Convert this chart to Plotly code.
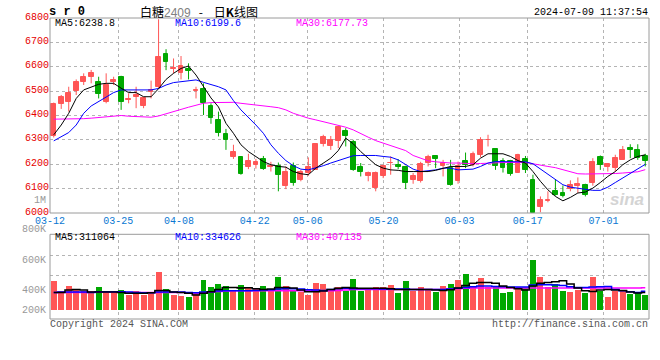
import plotly.graph_objects as go

# ---------------- data ----------------
dates = ["03-12","03-13","03-14","03-15","03-18","03-19","03-20","03-21","03-22","03-25",
         "03-26","03-27","03-28","03-29","04-01","04-02","04-03","04-08","04-09","04-10",
         "04-11","04-12","04-15","04-16","04-17","04-18","04-19","04-22","04-23","04-24",
         "04-25","04-26","04-29","04-30","05-06","05-07","05-08","05-09","05-10","05-13",
         "05-14","05-15","05-16","05-17","05-20","05-21","05-22","05-23","05-24","05-27",
         "05-28","05-29","05-30","05-31","06-03","06-04","06-05","06-06","06-07","06-11",
         "06-12","06-13","06-14","06-17","06-18","06-19","06-20","06-21","06-24","06-25",
         "06-26","06-27","06-28","07-01","07-02","07-03","07-04","07-05","07-08","07-09"]

tick_dates = ["03-12", "03-25", "04-08", "04-22", "05-06", "05-20", "06-03", "06-17", "07-01"]

opens = [6314,6447,6457,6501,6536,6559,6536,6457,6536,6559,
         6462,6477,6439,6498,6518,6652,6590,6576,6591,6500,
         6509,6439,6382,6325,6229,6230,6188,6198,6222,6190,
         6191,6109,6194,6134,6164,6177,6285,6276,6297,6338,
         6291,6187,6150,6102,6150,6204,6198,6187,6136,6130,
         6207,6232,6191,6184,6130,6214,6198,6239,6299,6263,
         6214,6214,6166,6222,6136,6025,6048,6091,6082,6098,
         6109,6116,6123,6228,6188,6184,6218,6266,6259,6234]
closes = [6447,6477,6491,6536,6559,6573,6487,6525,6545,6457,
          6466,6484,6470,6505,6641,6620,6596,6603,6582,6504,
          6453,6391,6330,6300,6252,6161,6215,6210,6180,6192,
          6154,6170,6125,6170,6187,6284,6310,6300,6352,6316,
          6177,6170,6164,6164,6194,6206,6187,6125,6150,6200,
          6228,6221,6207,6116,6191,6198,6243,6300,6301,6191,
          6184,6161,6239,6175,6000,6052,6055,6075,6068,6116,
          6120,6072,6209,6195,6200,6225,6259,6259,6225,6215]
highs = [6453,6484,6518,6548,6573,6587,6559,6573,6559,6563,
         6491,6518,6477,6543,6795,6672,6634,6644,6614,6518,
         6532,6450,6416,6345,6280,6230,6243,6222,6234,6210,
         6207,6191,6207,6177,6228,6284,6321,6316,6352,6348,
         6300,6205,6170,6170,6198,6232,6221,6194,6164,6210,
         6239,6236,6218,6218,6211,6248,6252,6311,6321,6266,
         6225,6218,6243,6234,6157,6068,6089,6139,6113,6134,
         6146,6120,6225,6236,6205,6239,6275,6282,6282,6243]
lows = [6310,6427,6416,6484,6525,6532,6470,6450,6525,6423,
        6450,6430,6430,6470,6511,6586,6573,6548,6548,6470,
        6402,6366,6314,6259,6222,6157,6180,6182,6177,6170,
        6089,6098,6112,6130,6153,6177,6273,6259,6266,6273,
        6173,6150,6130,6089,6143,6157,6180,6098,6120,6125,
        6191,6184,6150,6112,6120,6184,6191,6229,6273,6177,
        6166,6153,6164,6164,6000,6003,6044,6071,6064,6089,
        6082,6068,6112,6177,6170,6170,6218,6225,6218,6191]

ma5 = [6321,6361,6409,6470,6505,6518,6528,6532,6532,6512,
       6494,6494,6477,6477,6510,6548,6573,6593,6603,6566,
       6520,6472,6435,6368,6327,6280,6252,6232,6211,6198,
       6191,6188,6170,6161,6157,6184,6205,6225,6256,6307,
       6284,6252,6225,6198,6184,6177,6175,6170,6170,6170,
       6170,6175,6184,6191,6191,6191,6198,6225,6243,6243,
       6243,6232,6215,6205,6170,6130,6095,6068,6050,6064,
       6082,6086,6102,6125,6150,6170,6198,6218,6232,6238.8]
ma10 = [6296,6314,6330,6361,6409,6439,6457,6477,6494,6505,
        6505,6505,6505,6505,6511,6525,6535,6539,6543,6546,
        6536,6528,6518,6505,6461,6423,6393,6361,6327,6280,
        6245,6215,6194,6180,6177,6184,6194,6205,6214,6225,
        6235,6236,6237,6236,6232,6229,6218,6198,6180,6170,
        6173,6177,6184,6184,6177,6177,6180,6191,6205,6211,
        6211,6211,6211,6210,6202,6180,6157,6136,6116,6106,
        6101,6098,6093,6093,6106,6125,6143,6164,6180,6199.6]
ma30 = [6385,6385,6385,6386,6387,6389,6391,6393,6398,6400,
        6397,6396,6394,6393,6398,6406,6414,6425,6434,6442,
        6450,6453,6454,6454,6454,6450,6447,6445,6441,6436,
        6432,6423,6409,6398,6389,6382,6374,6366,6361,6352,
        6341,6325,6311,6297,6286,6276,6266,6256,6236,6224,
        6214,6210,6207,6205,6205,6203,6202,6203,6205,6206,
        6207,6207,6207,6207,6202,6195,6191,6186,6177,6168,
        6161,6160,6160,6160,6161,6162,6164,6166,6169,6177.73]

volume_k = [511,339,425,366,327,327,408,327,327,356,
            258,339,258,298,666,366,258,241,224,315,
            516,396,447,425,356,442,408,366,425,373,
            568,425,356,310,270,464,447,356,408,339,
            545,339,373,408,408,442,304,511,339,408,
            373,322,425,459,528,631,408,562,408,408,
            304,322,408,390,872,580,408,459,339,322,
            356,304,580,339,236,339,339,287,322,270]
vol_ma5_k = [315,315,356,366,356,322,322,322,322,315,
             298,298,298,310,349,349,322,315,298,270,
             298,327,366,401,401,390,396,378,366,373,
             401,401,390,356,327,327,339,366,384,401,
             390,384,384,384,384,378,366,366,366,366,
             366,356,349,361,390,435,470,487,487,470,
             425,401,378,356,425,470,487,499,516,459,
             390,344,332,356,366,356,349,322,304,311]
vol_ma10_k = [315,322,322,322,322,315,327,327,327,327,
              322,315,310,310,322,322,322,322,315,310,
              322,327,339,344,344,344,344,349,356,361,
              373,378,378,373,361,356,349,366,378,384,
              378,378,378,378,373,373,373,373,366,366,
              366,366,366,373,384,401,413,425,425,418,
              413,408,408,408,442,447,447,442,435,413,
              401,401,408,413,418,366,344,327,315,335]
vol_ma30_k = [315,315,315,315,315,318,318,318,318,318,
              313,313,313,313,315,315,315,315,306,304,
              310,322,332,339,344,344,344,344,344,344,
              344,344,344,344,344,344,344,344,349,356,
              366,366,366,366,366,366,366,366,366,366,
              366,366,366,373,378,384,390,390,390,390,
              390,390,390,390,390,390,390,390,390,390,
              390,390,390,390,390,390,390,390,390,395]

price_ticks = [6000, 6100, 6200, 6300, 6400, 6500, 6600, 6700, 6800]
vol_labels = ["1M", "800K", "600K", "400K", "200K"]

# ---------------- styling ----------------
RED = "#ff5656"
GREEN = "#00a800"
MA5_C = "#000000"
MA10_C = "#0000ff"
MA30_C = "#ff00ff"
GRID = "#b4b4b4"
FRAME = "#9a9a9a"
MONO = "Liberation Mono, DejaVu Sans Mono, monospace"
W, H = 660, 360

n = len(dates)
idx = list(range(n))
up = [c >= o for o, c in zip(opens, closes)]

fig = go.Figure()

# candles: wicks + bodies
for flag, col in ((True, RED), (False, GREEN)):
    xs = [i for i in idx if up[i] == flag]
    wx, wy = [], []
    for i in xs:
        wx += [i, i, None]
        wy += [lows[i], highs[i], None]
    fig.add_trace(go.Scatter(x=wx, y=wy, mode="lines", line=dict(color=col, width=1),
                             hoverinfo="skip", xaxis="x", yaxis="y"))
    fig.add_trace(go.Bar(x=xs,
                         base=[min(opens[i], closes[i]) for i in xs],
                         y=[abs(closes[i] - opens[i]) for i in xs],
                         width=0.64,
                         marker=dict(color=col, line=dict(color=col, width=1)),
                         xaxis="x", yaxis="y"))

for vals, col in ((ma30, MA30_C), (ma10, MA10_C), (ma5, MA5_C)):
    fig.add_trace(go.Scatter(x=idx, y=vals, mode="lines", line=dict(color=col, width=1),
                             xaxis="x", yaxis="y"))

# volume
fig.add_trace(go.Bar(x=idx, y=[v * 1000 for v in volume_k], width=0.8,
                     marker=dict(color=[RED if u else GREEN for u in up], line=dict(width=0)),
                     xaxis="x2", yaxis="y2"))
for vals, col in ((vol_ma30_k, MA30_C), (vol_ma10_k, MA10_C), (vol_ma5_k, MA5_C)):
    fig.add_trace(go.Scatter(x=idx, y=[v * 1000 for v in vals], mode="lines",
                             line=dict(color=col, width=1.5, shape="hvh"),
                             xaxis="x2", yaxis="y2"))

tick_pos = [dates.index(d) * n / (n - 1) - 0.5 for d in tick_dates]
X_DOM = [50 / W, 649 / W]
KPX = 17200  # volume per pixel in the volume panel

common = dict(showgrid=True, gridcolor=GRID, griddash="dot", gridwidth=1,
              showline=False, zeroline=False, ticks="", automargin=False, fixedrange=True)

fig.update_layout(
    width=W, height=H, margin=dict(l=0, r=0, t=0, b=0, autoexpand=False),
    paper_bgcolor="white", plot_bgcolor="white",
    showlegend=False, barmode="overlay", bargap=0,
    font=dict(family=MONO, size=10, color="#000"),
    xaxis=dict(domain=X_DOM, range=[-0.5, n - 0.5], anchor="y",
               tickmode="array", tickvals=tick_pos, ticktext=tick_dates,
               tickfont=dict(family=MONO, size=10, color="#0a78d2"), **common),
    yaxis=dict(domain=[1 - 213 / H, 1 - 18 / H], range=[6000, 6800], anchor="x",
               tickmode="array", tickvals=price_ticks, ticklabelshift=-2,
               tickfont=dict(family=MONO, size=10, color="#e60000"), **common),
    xaxis2=dict(domain=X_DOM, range=[-0.5, n - 0.5], anchor="y2",
                tickmode="array", tickvals=tick_pos, showticklabels=False, **common),
    yaxis2=dict(domain=[1 - 319 / H, 1 - 234.3 / H],
                range=[-8.3 * KPX, 76.4 * KPX], anchor="x2",
                tickmode="array", tickvals=[35.7 * KPX, 55 * KPX],
                showticklabels=False, **common),
)

fig.add_shape(type="rect", xref="x domain", yref="y domain", x0=0, x1=1, y0=0, y1=1,
              line=dict(color=FRAME, width=1), layer="above")
fig.add_shape(type="rect", xref="x2 domain", yref="y2 domain", x0=0, x1=1, y0=0, y1=1,
              line=dict(color=FRAME, width=1), layer="above")


def ann(text, px, py, color="#000", size=10, anchor="left", family=MONO):
    fig.add_annotation(text=text, x=px / W, y=1 - py / H, xref="paper", yref="paper",
                       xanchor=anchor, yanchor="middle", showarrow=False,
                       font=dict(family=family, size=size, color=color), borderpad=0)


ann("<b>s r 0</b>", 48, 12, size=12)
ann("白糖<span style='color:#808080;font-family:Liberation Sans;font-size:12px'>2409</span>"
    "&nbsp;&nbsp;&nbsp;-&nbsp;&nbsp;&nbsp;&nbsp;日<b>K</b>线图", 139, 11,
    size=12, family="Noto Sans CJK SC")
ann("2024-07-09 11:37:54", 649, 12.5, anchor="right")

ann("MA5:%s" % ma5[-1], 54, 24, color=MA5_C)
ann("MA10:%s" % ma10[-1], 174, 24, color=MA10_C)
ann("MA30:%s" % ma30[-1], 295, 24, color=MA30_C)

ann("MA5:311064", 54, 237.3, color=MA5_C)
ann("MA10:334626", 174, 237.3, color=MA10_C)
ann("MA30:407135", 295, 237.3, color=MA30_C)

for lab, py in zip(vol_labels, [200.7, 230, 260.7, 290.7, 310.7]):
    ann(lab, 47, py, color="#999999", anchor="right")

ann("Copyright 2024 SINA.COM", 49, 324, color="#555555")
ann("http://finance.sina.com.cn", 649, 324, color="#555555", anchor="right")
ann("<b><i>sina</i></b>", 627, 199, color="#d4d4d4", size=17, anchor="center",
    family="Liberation Sans, Arial, sans-serif")

fig.write_html("out.html", config={"displayModeBar": False},
               post_script="document.body.style.margin='0';"
                           "document.body.style.overflow='hidden';")
